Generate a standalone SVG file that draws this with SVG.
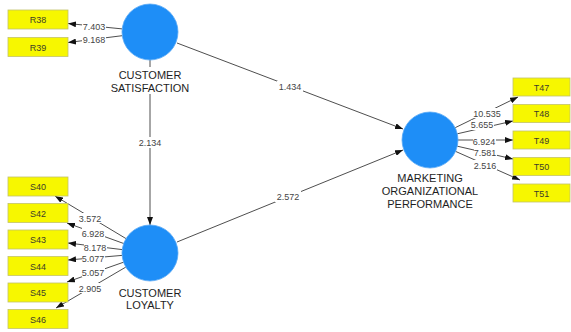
<svg xmlns="http://www.w3.org/2000/svg" width="571" height="332" viewBox="0 0 571 332">
  <defs>
    <marker id="arrow" viewBox="0 0 8 6" refX="8" refY="3" markerWidth="8" markerHeight="6" markerUnits="userSpaceOnUse" orient="auto">
      <path d="M0,0 L8,3 L0,6 Z" fill="#111"/>
    </marker>
    <style>
      .edge { stroke: #3a3a3a; stroke-width: 0.9; fill: none; marker-end: url(#arrow); }
      .latent { fill: #1e8ef7; stroke: #5aa9f5; stroke-width: 0.8; }
      .ind rect { fill: #f7f700; stroke: #c2c26a; stroke-width: 0.8; }
      .ind text { font-family: "Liberation Sans", Arial, sans-serif; font-size: 9px; fill: #3d3d2a; text-anchor: middle; }
      .name { font-family: "Liberation Sans", Arial, sans-serif; font-size: 11px; fill: #1e1e1e; text-anchor: middle; }
      .val { font-family: "Liberation Sans", Arial, sans-serif; font-size: 9px; fill: #444; text-anchor: middle; }
      .bg { fill: #fff; }
    </style>
  </defs>

  <rect width="571" height="332" fill="#fff"/>

  <!-- connectors: structural paths and outer loadings -->
  <g id="connectors">
    <!-- structural paths -->
    <line class="edge" x1="150" y1="60" x2="150" y2="225"/>
    <line class="edge" x1="177" y1="43" x2="403" y2="129"/>
    <line class="edge" x1="177" y1="242" x2="403" y2="150"/>

    <!-- satisfaction indicators -->
    <line class="edge" x1="122.2" y1="28.9" x2="68" y2="23.5"/>
    <line class="edge" x1="122.2" y1="35.7" x2="68" y2="42.5"/>

    <!-- loyalty indicators -->
    <line class="edge" x1="126" y1="238.6" x2="55" y2="196"/>
    <line class="edge" x1="123.7" y1="243.5" x2="67" y2="223"/>
    <line class="edge" x1="122.2" y1="249.6" x2="68" y2="243"/>
    <line class="edge" x1="122.1" y1="255.4" x2="68" y2="260"/>
    <line class="edge" x1="123.6" y1="262.2" x2="67" y2="282"/>
    <line class="edge" x1="125.8" y1="267.1" x2="56" y2="308"/>

    <!-- performance indicators -->
    <line class="edge" x1="455.2" y1="127.7" x2="518" y2="97"/>
    <line class="edge" x1="457.3" y1="133.8" x2="513" y2="121"/>
    <line class="edge" x1="458" y1="140" x2="513" y2="140"/>
    <line class="edge" x1="457.3" y1="146.2" x2="513" y2="159"/>
    <line class="edge" x1="455.6" y1="151.4" x2="520" y2="180"/>

    <!-- path coefficients / t-values -->
    <g>
      <rect class="bg" x="137" y="137" width="26" height="11"/>
      <text class="val" x="150" y="146">2.134</text>
      <rect class="bg" x="277" y="81" width="26" height="11"/>
      <text class="val" x="290" y="90">1.434</text>
      <rect class="bg" x="275" y="191" width="26" height="11"/>
      <text class="val" x="288" y="200">2.572</text>

      <rect class="bg" x="82" y="21" width="24" height="10"/>
      <text class="val" x="94" y="29.5">7.403</text>
      <rect class="bg" x="82" y="34" width="24" height="10"/>
      <text class="val" x="94" y="42.5">9.168</text>

      <rect class="bg" x="79" y="213" width="23" height="10"/>
      <text class="val" x="90" y="221.5">3.572</text>
      <rect class="bg" x="82" y="228" width="23" height="10"/>
      <text class="val" x="93" y="236.5">6.928</text>
      <rect class="bg" x="84" y="242" width="23" height="10"/>
      <text class="val" x="95" y="250.5">8.178</text>
      <rect class="bg" x="82" y="253" width="23" height="10"/>
      <text class="val" x="93" y="261.5">5.077</text>
      <rect class="bg" x="82" y="267" width="23" height="10"/>
      <text class="val" x="93" y="275.5">5.057</text>
      <rect class="bg" x="79" y="283" width="23" height="10"/>
      <text class="val" x="90" y="291.5">2.905</text>

      <rect class="bg" x="472" y="108" width="29" height="10"/>
      <text class="val" x="487" y="116.5">10.535</text>
      <rect class="bg" x="471" y="120" width="23" height="10"/>
      <text class="val" x="482" y="128">5.655</text>
      <rect class="bg" x="473" y="136" width="23" height="10"/>
      <text class="val" x="484" y="144.5">6.924</text>
      <rect class="bg" x="474" y="147" width="23" height="10"/>
      <text class="val" x="485" y="155.5">7.581</text>
      <rect class="bg" x="474" y="160" width="23" height="10"/>
      <text class="val" x="485" y="168.5">2.516</text>
    </g>
  </g>

  <!-- latent constructs -->
  <g id="customer-satisfaction">
    <circle class="latent" cx="150" cy="32" r="28"/>
    <rect class="bg" x="108" y="67" width="84" height="27"/>
    <text class="name" x="150" y="79">CUSTOMER</text>
    <text class="name" x="150" y="92">SATISFACTION</text>
  </g>

  <g id="customer-loyalty">
    <circle class="latent" cx="150" cy="253" r="28"/>
    <text class="name" x="150" y="297">CUSTOMER</text>
    <text class="name" x="150" y="309">LOYALTY</text>
  </g>

  <g id="marketing-organizational-performance">
    <circle class="latent" cx="430" cy="140" r="28"/>
    <text class="name" x="430" y="182">MARKETING</text>
    <text class="name" x="430" y="195">ORGANIZATIONAL</text>
    <text class="name" x="430" y="208">PERFORMANCE</text>
  </g>

  <!-- indicators -->
  <g id="R38" class="ind"><rect x="8" y="10" width="60" height="19"/><text x="38" y="23">R38</text></g>
  <g id="R39" class="ind"><rect x="8" y="37.5" width="60" height="19"/><text x="38" y="50.5">R39</text></g>

  <g id="S40" class="ind"><rect x="8" y="177" width="60" height="19"/><text x="38" y="190">S40</text></g>
  <g id="S42" class="ind"><rect x="8" y="203.5" width="60" height="19"/><text x="38" y="216.5">S42</text></g>
  <g id="S43" class="ind"><rect x="8" y="230" width="60" height="19"/><text x="38" y="243">S43</text></g>
  <g id="S44" class="ind"><rect x="8" y="256.5" width="60" height="19"/><text x="38" y="269.5">S44</text></g>
  <g id="S45" class="ind"><rect x="8" y="283" width="60" height="19"/><text x="38" y="296">S45</text></g>
  <g id="S46" class="ind"><rect x="8" y="309.5" width="60" height="19"/><text x="38" y="322.5">S46</text></g>

  <g id="T47" class="ind"><rect x="513" y="78" width="57" height="18"/><text x="541.5" y="90.5">T47</text></g>
  <g id="T48" class="ind"><rect x="513" y="104.5" width="57" height="18"/><text x="541.5" y="117">T48</text></g>
  <g id="T49" class="ind"><rect x="513" y="131" width="57" height="18"/><text x="541.5" y="143.5">T49</text></g>
  <g id="T50" class="ind"><rect x="513" y="157.5" width="57" height="18"/><text x="541.5" y="170">T50</text></g>
  <g id="T51" class="ind"><rect x="513" y="184" width="57" height="18"/><text x="541.5" y="196.5">T51</text></g>
</svg>
